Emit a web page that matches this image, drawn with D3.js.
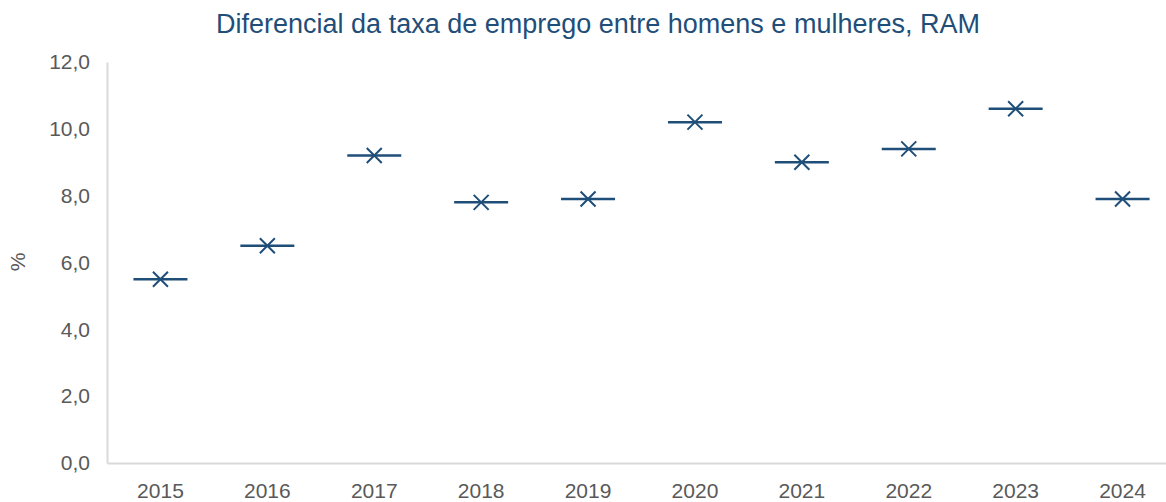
<!DOCTYPE html>
<html>
<head>
<meta charset="utf-8">
<script src="https://cdn.jsdelivr.net/npm/d3@7"></script>
<style>
  body { margin: 0; background: #fff; }
  text { font-family: "Liberation Sans", Arial, sans-serif; }
</style>
</head>
<body>
<svg id="chart" width="1166" height="502"></svg>
<script>
// Dados
const anos = ["2015", "2016", "2017", "2018", "2019", "2020", "2021", "2022", "2023", "2024"];
const valores = [5.5, 6.5, 9.2, 7.8, 7.9, 10.2, 9.0, 9.4, 10.6, 7.9];
const yTicks = [0, 2, 4, 6, 8, 10, 12];

const data = anos.map((a, i) => ({ ano: a, v: valores[i] }));

const svg = d3.select("#chart"),
      margin = {top: 62, right: -10, bottom: 39, left: 107},
      width = +svg.attr("width") - margin.left - margin.right,
      height = +svg.attr("height") - margin.top - margin.bottom;

const g = svg.append("g")
             .attr("transform", `translate(${margin.left},${margin.top})`);

const x = d3.scaleBand().domain(anos).range([0, width]);
const y = d3.scaleLinear().domain([0, 12]).range([height, 0]);

const cor = "#1F4E79";
const fmt = d => d.toFixed(1).replace(".", ",");

// Eixo Y
const ay = g.append("g")
  .call(d3.axisLeft(y).tickValues(yTicks).tickFormat(fmt).tickSize(0).tickPadding(17));
ay.select(".domain").attr("stroke", "#d9d9d9").attr("stroke-width", 2);
ay.selectAll("text").style("font-size", "21px").attr("fill", "#595959");

// Eixo X
const ax = g.append("g")
  .attr("transform", `translate(0,${height})`)
  .call(d3.axisBottom(x).tickSize(0).tickPadding(20));
ax.select(".domain").attr("stroke", "#d9d9d9").attr("stroke-width", 2);
ax.selectAll("text").style("font-size", "21px").attr("fill", "#595959");

// Marcadores: traço horizontal + X
const pts = g.selectAll("g.pt")
  .data(data)
  .enter().append("g")
    .attr("class", "pt")
    .attr("transform", d => `translate(${x(d.ano) + x.bandwidth() / 2},${y(d.v)})`);

pts.append("line")
  .attr("x1", -27).attr("x2", 27)
  .attr("stroke", cor).attr("stroke-width", 2.5);

pts.append("path")
  .attr("d", "M-7.5,-7.5L7.5,7.5M-7.5,7.5L7.5,-7.5")
  .attr("stroke", cor).attr("stroke-width", 2).attr("fill", "none");

// Título do eixo Y
svg.append("text")
  .attr("transform", "translate(25,262) rotate(-90)")
  .attr("text-anchor", "middle")
  .style("font-size", "21px")
  .attr("fill", "#595959")
  .text("%");

// Título
svg.append("text")
  .attr("x", 598)
  .attr("y", 33)
  .attr("text-anchor", "middle")
  .style("font-size", "27px")
  .attr("fill", cor)
  .text("Diferencial da taxa de emprego entre homens e mulheres, RAM");
</script>
</body>
</html>
